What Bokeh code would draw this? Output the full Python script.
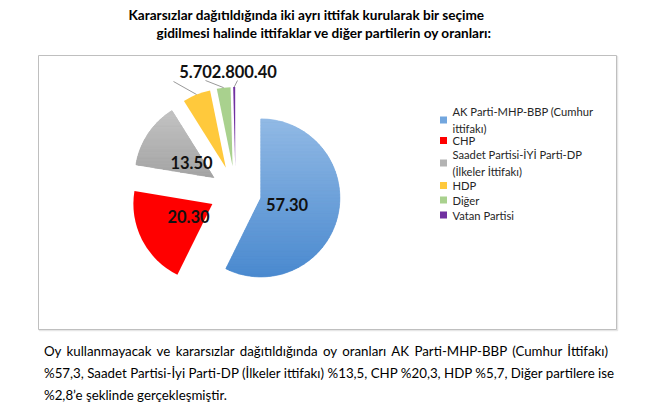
import numpy as np
from bokeh.plotting import figure
from bokeh.models import Range1d, Div
from bokeh.layouts import column
from bokeh.embed import file_html
from bokeh.resources import INLINE
from bokeh.core.properties import value

# ---------------- data ----------------
title_lines = [
    "Kararsızlar dağıtıldığında iki ayrı ittifak kurularak bir seçime",
    "gidilmesi halinde ittifaklar ve diğer partilerin oy oranları:",
]
parties = [
    "AK Parti-MHP-BBP (Cumhur ittifakı)",
    "CHP",
    "Saadet Partisi-İYİ Parti-DP (İlkeler İttifakı)",
    "HDP",
    "Diğer",
    "Vatan Partisi",
]
legend_labels = [
    "AK Parti-MHP-BBP (Cumhur\nittifakı)",
    "CHP",
    "Saadet Partisi-İYİ Parti-DP\n(İlkeler İttifakı)",
    "HDP",
    "Diğer",
    "Vatan Partisi",
]
shares = [57.3, 20.3, 13.5, 5.7, 2.8, 0.4]
paragraph_lines = [
    "Oy kullanmayacak ve kararsızlar dağıtıldığında oy oranları AK Parti-MHP-BBP (Cumhur İttifakı)",
    "%57,3, Saadet Partisi-İyi Parti-DP (İlkeler ittifakı) %13,5, CHP %20,3, HDP %5,7, Diğer partilere ise",
    "%2,8’e şeklinde gerçekleşmiştir.",
]

# ---------------- styles ----------------
colors = ["#72A6DE", "#FF0000", "#B3B3B3", "#FFC93C", "#A9D18E", "#7030A0"]
gradients = {0: ("#92BAE5", "#4A89CF"), 2: ("#C4C4C4", "#A4A4A4")}
FONT = "Lato"
W, H = 641, 338


def px(X):  # page x -> data x
    return X


def py(Y):  # page y -> data y
    return H - Y


def hex2rgb(h):
    return np.array([int(h[i:i + 2], 16) for i in (1, 3, 5)], dtype=float)


def clip_half(poly, y0, keep_above):
    out = []
    n = len(poly)
    for i in range(n):
        P, Q = poly[i], poly[(i + 1) % n]
        inP = P[1] >= y0 if keep_above else P[1] <= y0
        inQ = Q[1] >= y0 if keep_above else Q[1] <= y0
        if inQ:
            if not inP:
                t = (y0 - P[1]) / (Q[1] - P[1])
                out.append((P[0] + t * (Q[0] - P[0]), y0))
            out.append(Q)
        elif inP:
            t = (y0 - P[1]) / (Q[1] - P[1])
            out.append((P[0] + t * (Q[0] - P[0]), y0))
    return out


p = figure(width=W, height=H, output_backend="svg", toolbar_location=None,
           x_range=Range1d(0, W), y_range=Range1d(0, H),
           min_border=0, outline_line_color=None, background_fill_color="white",
           border_fill_color="white")
p.axis.visible = False
p.grid.visible = False

# chart frame
p.quad(left=[px(39)], right=[px(617)], top=[py(56)], bottom=[py(330)],
       fill_color=None, line_color="#E6E6E6", line_width=1.5)
p.quad(left=[px(38)], right=[px(616)], top=[py(55)], bottom=[py(329)],
       fill_color="white", line_color="#BFBFBF", line_width=1)

# pie geometry
vals = np.array(shares, dtype=float)
frac = vals / vals.sum()
cum = np.concatenate([[0.0], np.cumsum(frac)])
th0 = cum[:-1] * 2 * np.pi           # clockwise from 12 o'clock
th1 = cum[1:] * 2 * np.pi
thm = (th0 + th1) / 2
cx, cy = px(235), py(191.5)
R = 79
explode = 26
vx = cx + explode * np.sin(thm)
vy = cy + explode * np.cos(thm)
start = np.pi / 2 - th1
end = np.pi / 2 - th0

p.wedge(x=vx, y=vy, radius=R, start_angle=start, end_angle=end,
        direction="anticlock", fill_color=colors, line_color=None)

# vertical gradient shading (Excel style) for the blue and grey slices
band_xs, band_ys, band_cols = [], [], []
for i, (ctop, cbot) in gradients.items():
    a = np.linspace(th0[i], th1[i], 240)
    poly = [(vx[i], vy[i])] + [(vx[i] + R * np.sin(t), vy[i] + R * np.cos(t)) for t in a]
    ys_all = [q[1] for q in poly]
    ylo, yhi = min(ys_all), max(ys_all)
    nb = 48
    edges = np.linspace(yhi, ylo, nb + 1)
    c0, c1 = hex2rgb(ctop), hex2rgb(cbot)
    for b in range(nb):
        top_e, bot_e = edges[b], edges[b + 1]
        part = clip_half(poly, top_e, keep_above=False)
        if part:
            part = clip_half(part, bot_e, keep_above=True)
        if len(part) < 3:
            continue
        f = (b + 0.5) / nb
        c = c0 + (c1 - c0) * f
        band_xs.append([q[0] for q in part])
        band_ys.append([q[1] for q in part])
        band_cols.append("#%02x%02x%02x" % tuple(int(round(v)) for v in c))
p.patches(xs=band_xs, ys=band_ys, fill_color=band_cols, line_color=band_cols,
          line_width=0.7)

# inside data labels for large slices
lab_r = 0.34 * R
big = [0, 1, 2]
p.text(x=[vx[i] + lab_r * np.sin(thm[i]) for i in big],
       y=[vy[i] + lab_r * np.cos(thm[i]) for i in big],
       text=[f"{shares[i]:.2f}" for i in big],
       text_font=value(FONT), text_font_style="bold", text_font_size="16.5px",
       text_align="center", text_baseline="middle", text_color="#111111")

# outside labels for small slices, with leader lines
small = [3, 4, 5]
out_x = [px(195), px(227.5), px(260)]
out_y = [py(71)] * 3
p.text(x=out_x, y=out_y, text=[f"{shares[i]:.2f}" for i in small],
       text_font=value(FONT), text_font_style="bold", text_font_size="16.5px",
       text_align="center", text_baseline="middle", text_color="#111111")
lead_start_x = [px(173), px(205), px(237)]
lead_start_y = [py(81), py(80), py(80)]
lead_end_x = [vx[i] + R * np.sin(thm[i]) for i in small]
lead_end_y = [vy[i] + R * np.cos(thm[i]) for i in small]
p.segment(x0=lead_start_x, y0=lead_start_y, x1=lead_end_x, y1=lead_end_y,
          line_color="#7F7F7F", line_width=0.8)

# legend
leg_y = [py(119.5), py(140), py(162.5), py(185), py(199.5), py(214.5)]
p.scatter(x=[px(443)] * len(parties), y=leg_y, marker="square", size=7,
          fill_color=colors, line_color=None)
p.text(x=[px(452)] * len(parties), y=leg_y, text=legend_labels,
       text_font=value(FONT), text_font_size="11.2px", text_line_height=1.3,
       text_align="left", text_baseline="middle", text_color="#262626")

# title
p.text(x=[px(128), px(156)], y=[py(14), py(32)], text=title_lines,
       text_font=value(FONT), text_font_style="bold", text_font_size="13.6px",
       text_align="left", text_baseline="middle", text_color="#000000")

# paragraph below the chart
line_style = "white-space:nowrap;height:22px;line-height:22px;"
html = (
    f"<div style=\"font-family:'{FONT}';font-size:13.3px;color:#000;"
    f"width:564px;margin-left:44px;padding-top:2px;\">"
    f"<div style=\"{line_style}text-align:justify;text-align-last:justify;\">{paragraph_lines[0]}</div>"
    f"<div style=\"{line_style}text-align:justify;text-align-last:justify;\">{paragraph_lines[1]}</div>"
    f"<div style=\"{line_style}text-align:left;\">{paragraph_lines[2]}</div>"
    f"</div>"
)
div = Div(text=html, width=W, height=68, margin=(0, 0, 0, 0))

layout = column(p, div, spacing=0)
open("out.html", "w").write(file_html(layout, INLINE))
